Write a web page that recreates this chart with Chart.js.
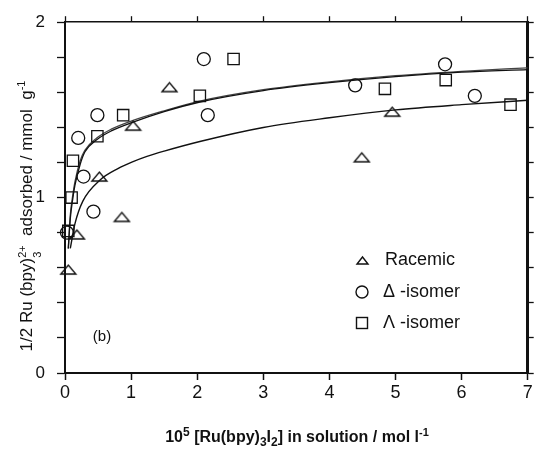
<!DOCTYPE html>
<html>
<head>
<meta charset="utf-8">
<script src="https://cdn.jsdelivr.net/npm/chart.js@4.4.0/dist/chart.umd.min.js"></script>
<style>
  body { margin: 0; background: #fff; }
  #wrap { width: 537px; height: 450px; }
</style>
</head>
<body>
<div id="wrap"><canvas id="myChart" width="537" height="450"></canvas></div>
<script>
const racemicX = [0.05, 0.18, 0.52, 0.86, 1.03, 1.58, 4.49, 4.95];
const racemicY = [0.59, 0.79, 1.12, 0.89, 1.41, 1.63, 1.23, 1.49];

const deltaX = [0.03, 0.2, 0.28, 0.43, 0.49, 2.1, 2.16, 4.39, 5.75, 6.2];
const deltaY = [0.80, 1.34, 1.12, 0.92, 1.47, 1.79, 1.47, 1.64, 1.76, 1.58];

const lambdaX = [0.05, 0.1, 0.12, 0.49, 0.88, 2.04, 2.55, 4.84, 5.76, 6.74];
const lambdaY = [0.81, 1.0, 1.21, 1.35, 1.47, 1.58, 1.79, 1.62, 1.67, 1.53];

// fitted curves
const upperX = [0.05, 0.08, 0.12, 0.15, 0.23, 0.3, 0.48, 0.7, 1.03, 1.5, 2.04, 3.0, 4.0, 5.0, 6.0, 7.0];
const upperY1 = [0.71, 0.88, 1.0, 1.07, 1.19, 1.26, 1.33, 1.38, 1.43, 1.49, 1.545, 1.61, 1.655, 1.69, 1.715, 1.73];
const upperY2 = [0.71, 0.90, 1.02, 1.09, 1.21, 1.27, 1.34, 1.39, 1.44, 1.495, 1.55, 1.615, 1.66, 1.695, 1.72, 1.74];

const lowerX = [0.08, 0.15, 0.27, 0.53, 0.8, 1.03, 1.24, 1.5, 2.04, 3.0, 4.0, 5.0, 6.0, 7.0];
const lowerY = [0.71, 0.85, 0.98, 1.10, 1.165, 1.205, 1.235, 1.265, 1.32, 1.40, 1.455, 1.50, 1.53, 1.555];

const legendLabels = ['Racemic', 'Δ -isomer', 'Λ -isomer'];

const ink = '#111';
const fam = '"Liberation Sans", Arial, sans-serif';
Chart.defaults.font.family = fam;
Chart.defaults.color = ink;

function pts(xs, ys) {
    return xs.map((x, i) => ({x: x, y: ys[i]}));
}

// flattened open triangle used as point style
function makeTriangle(w, h, lw) {
    const c = document.createElement('canvas');
    c.width = w + 4;
    c.height = h + 4;
    const g = c.getContext('2d');
    g.strokeStyle = ink;
    g.lineWidth = lw;
    g.beginPath();
    g.moveTo(2, h + 2);
    g.lineTo(w + 2, h + 2);
    g.lineTo(w / 2 + 2, 2);
    g.closePath();
    g.stroke();
    return c;
}
const triBig = makeTriangle(15, 9, 1.4);

// text with super/subscripts, centred on (0,0) of current transform
function drawRich(ctx, segs, weight) {
    const f = s => weight + ' ' + s + 'px ' + fam;
    let total = 0;
    segs.forEach(sg => {
        ctx.font = f(sg.s);
        sg.w = sg.top ? Math.max(ctx.measureText(sg.top).width, ctx.measureText(sg.bot).width)
                      : ctx.measureText(sg.t).width;
        total += sg.w;
    });
    let x = -total / 2;
    ctx.textAlign = 'left';
    ctx.textBaseline = 'alphabetic';
    segs.forEach(sg => {
        ctx.font = f(sg.s);
        if (sg.top) {
            ctx.fillText(sg.top, x, -6);
            ctx.fillText(sg.bot, x, 9);
        } else {
            ctx.fillText(sg.t, x, sg.dy || 0);
        }
        x += sg.w;
    });
}

const xTitle = [
    {t: '10', s: 16}, {t: '5', s: 12, dy: -6},
    {t: ' [Ru(bpy)', s: 16}, {t: '3', s: 12, dy: 4},
    {t: 'I', s: 16}, {t: '2', s: 12, dy: 4},
    {t: '] in solution / mol l', s: 16}, {t: '-1', s: 11, dy: -6}
];
const yTitle = [
    {t: '1/2 Ru (bpy)', s: 17}, {top: '2+', bot: '3', s: 11},
    {t: '  adsorbed / mmol  g', s: 17}, {t: '-1', s: 11, dy: -7}
];

// legend, "(b)" and axis titles, drawn on top
const extras = {
    id: 'extras',
    afterDraw(chart) {
        const ctx = chart.ctx;
        ctx.save();
        ctx.fillStyle = ink;
        ctx.strokeStyle = ink;
        ctx.lineWidth = 1.4;

        // legend
        const rows = [260, 292, 323];
        ctx.font = '18px ' + fam;
        ctx.textBaseline = 'middle';
        ctx.textAlign = 'left';
        ctx.beginPath();
        ctx.moveTo(357, rows[0] + 4);
        ctx.lineTo(368, rows[0] + 4);
        ctx.lineTo(362.5, rows[0] - 3);
        ctx.closePath();
        ctx.stroke();
        ctx.beginPath();
        ctx.arc(362, rows[1], 6, 0, Math.PI * 2);
        ctx.stroke();
        ctx.strokeRect(356.5, rows[2] - 5.5, 11, 11);

        ctx.fillText(legendLabels[0], 385, rows[0]);
        ctx.fillText(legendLabels[1], 383, rows[1]);
        ctx.fillText(legendLabels[2], 383, rows[2]);

        // panel tag
        ctx.font = '15px ' + fam;
        ctx.textAlign = 'center';
        ctx.fillText('(b)', 102, 337);

        // x axis title
        ctx.save();
        ctx.translate(297, 442);
        drawRich(ctx, xTitle, 'bold');
        ctx.restore();

        // y axis title
        ctx.translate(32, 216);
        ctx.rotate(-Math.PI / 2);
        drawRich(ctx, yTitle, 'normal');
        ctx.restore();
    }
};

const canvas = document.getElementById('myChart');
const myChart = new Chart(canvas, {
    type: 'scatter',
    data: {
        datasets: [
            {
                label: 'Racemic',
                data: pts(racemicX, racemicY),
                pointStyle: triBig,
                borderColor: ink,
                backgroundColor: 'transparent',
                clip: false
            },
            {
                label: 'Δ -isomer',
                data: pts(deltaX, deltaY),
                pointStyle: 'circle',
                pointRadius: 6.5,
                pointBorderWidth: 1.3,
                borderColor: ink,
                backgroundColor: 'transparent',
                clip: false
            },
            {
                label: 'Λ -isomer',
                data: pts(lambdaX, lambdaY),
                pointStyle: 'rect',
                pointRadius: 8,
                pointBorderWidth: 1.3,
                borderColor: ink,
                backgroundColor: 'transparent',
                clip: false
            },
            {
                label: 'fit Δ',
                data: pts(upperX, upperY1),
                showLine: true,
                pointRadius: 0,
                borderColor: ink,
                borderWidth: 1.3,
                cubicInterpolationMode: 'monotone'
            },
            {
                label: 'fit Λ',
                data: pts(upperX, upperY2),
                showLine: true,
                pointRadius: 0,
                borderColor: '#444',
                borderWidth: 1.3,
                cubicInterpolationMode: 'monotone'
            },
            {
                label: 'fit racemic',
                data: pts(lowerX, lowerY),
                showLine: true,
                pointRadius: 0,
                borderColor: ink,
                borderWidth: 1.4,
                cubicInterpolationMode: 'monotone'
            }
        ]
    },
    options: {
        responsive: false,
        animation: false,
        layout: { padding: 0 },
        plugins: {
            legend: { display: false },
            tooltip: { enabled: false }
        },
        scales: {
            x: {
                type: 'linear',
                position: 'bottom',
                min: 0,
                max: 7,
                ticks: { stepSize: 1, font: { size: 18 }, color: ink, padding: 2 },
                grid: { drawOnChartArea: false, tickLength: 7, tickWidth: 1.5, tickColor: ink },
                border: { color: ink, width: 2 },
                afterFit: s => { s.height = 77; }
            },
            x2: {
                type: 'linear',
                position: 'top',
                min: 0,
                max: 7,
                ticks: { stepSize: 1, display: false },
                grid: { drawOnChartArea: false, tickLength: 6, tickWidth: 1.3, tickColor: ink },
                border: { color: ink, width: 1.5 },
                afterFit: s => { s.height = 20; }
            },
            y: {
                type: 'linear',
                position: 'left',
                min: 0,
                max: 2,
                ticks: {
                    stepSize: 0.2,
                    font: { size: 17 },
                    color: ink,
                    padding: 12,
                    callback: v => Math.abs(v - Math.round(v)) < 1e-6 ? Math.round(v) : ''
                },
                grid: { drawOnChartArea: false, tickLength: 8, tickWidth: 1.3, tickColor: ink },
                border: { color: ink, width: 2 },
                afterFit: s => { s.width = 65; }
            },
            y2: {
                type: 'linear',
                position: 'right',
                min: 0,
                max: 2,
                ticks: { stepSize: 0.2, display: false },
                grid: { drawOnChartArea: false, tickLength: 6, tickWidth: 1.3, tickColor: ink },
                border: { color: ink, width: 3 },
                afterFit: s => { s.width = 8; }
            }
        }
    },
    plugins: [extras]
});
</script>
</body>
</html>
